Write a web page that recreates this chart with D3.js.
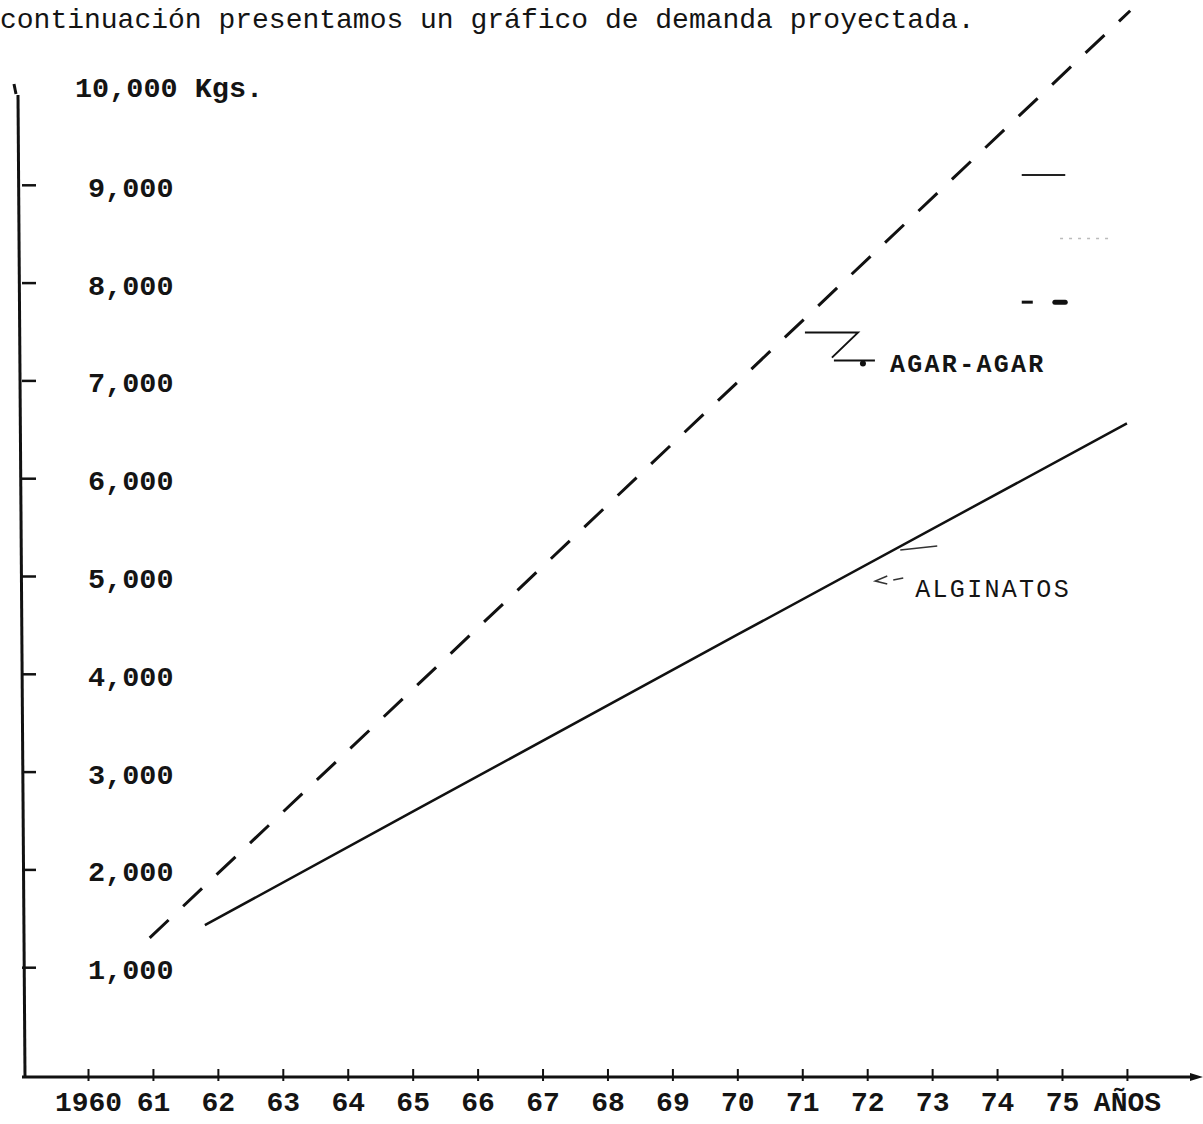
<!DOCTYPE html>
<html>
<head>
<meta charset="utf-8">
<script src="https://cdn.jsdelivr.net/npm/d3@7"></script>
<style>
  body { margin: 0; background: #fff; }
  svg { display: block; }
  text { font-family: "Liberation Mono", "DejaVu Sans Mono", monospace; fill: #141414; }
</style>
</head>
<body>
<div id="chart"></div>
<script>
// Years on the x axis and their typed labels
const years = [1960, 1961, 1962, 1963, 1964, 1965, 1966, 1967, 1968, 1969, 1970, 1971, 1972, 1973, 1974, 1975, 1976];
const yearLabels = ["1960", "61", "62", "63", "64", "65", "66", "67", "68", "69", "70", "71", "72", "73", "74", "75", "AÑOS"];

// Kg ticks on the y axis
const kgTicks = [1000, 2000, 3000, 4000, 5000, 6000, 7000, 8000, 9000];
const kgLabels = ["1,000", "2,000", "3,000", "4,000", "5,000", "6,000", "7,000", "8,000", "9,000"];

// Projected demand
const agarYears = [1960.95, 1965, 1970, 1976.05];
const agarValues = [1300, 3840, 6980, 10780];
const alginatosYears = [1961.8, 1965, 1970, 1976];
const alginatosValues = [1430, 2590, 4400, 6560];

const width = 1203, height = 1124;

const svg = d3.select("#chart")
    .append("svg")
    .attr("width", width)
    .attr("height", height);

svg.append("rect").attr("width", width).attr("height", height).attr("fill", "#fff");

const x = d3.scaleLinear().domain([1960, 1975]).range([88, 1062]);
const y = d3.scaleLinear().domain([0, 10000]).range([1065, 87]);

const axisY = 1077;

// Title line of the page
svg.append("text")
    .attr("x", 0)
    .attr("y", 28)
    .style("font-size", "28px")
    .text("continuación presentamos un gráfico de demanda proyectada.");

// Axis lines
svg.append("line")
    .attr("x1", 18).attr("y1", 95)
    .attr("x2", 25).attr("y2", axisY)
    .attr("stroke", "#111").attr("stroke-width", 3);
svg.append("line")
    .attr("x1", 14).attr("y1", 84)
    .attr("x2", 16).attr("y2", 94)
    .attr("stroke", "#111").attr("stroke-width", 3);

svg.append("line")
    .attr("x1", 22).attr("y1", axisY)
    .attr("x2", 1196).attr("y2", axisY)
    .attr("stroke", "#111").attr("stroke-width", 3);
svg.append("path")
    .attr("d", `M1203,${axisY} L1190,${axisY - 4} L1190,${axisY + 4} Z`)
    .attr("fill", "#111");

// Y axis ticks and labels
const gy = svg.append("g")
    .attr("transform", "translate(22,0)")
    .call(d3.axisRight(y)
        .tickValues(kgTicks)
        .tickFormat((d, i) => kgLabels[i])
        .tickSize(14)
        .tickPadding(52));
gy.select(".domain").remove();
gy.selectAll("line").attr("stroke", "#111").attr("stroke-width", 2.5);
gy.selectAll("text")
    .attr("dy", "0.4em")
    .style("font-size", "28.5px")
    .style("font-weight", "bold")
    .attr("fill", "#141414");

svg.append("text")
    .attr("x", 75)
    .attr("y", y(10000))
    .attr("dy", "0.34em")
    .style("font-size", "28.5px")
    .style("font-weight", "bold")
    .text("10,000 Kgs.");

// X axis ticks and labels
const gx = svg.append("g")
    .attr("transform", `translate(0,${axisY})`)
    .call(d3.axisBottom(x)
        .tickValues(years)
        .tickFormat((d, i) => yearLabels[i])
        .tickSizeInner(-8)
        .tickSizeOuter(0)
        .tickPadding(14));
gx.select(".domain").remove();
gx.selectAll("line").attr("y2", -8).attr("y1", 4).attr("stroke", "#111").attr("stroke-width", 2);
gx.selectAll("text")
    .style("font-size", "28px")
    .style("font-weight", "bold")
    .attr("fill", "#141414");

// Lines
const line = d3.line()
    .x(d => x(d[0]))
    .y(d => y(d[1]));

svg.append("path")
    .datum(agarYears.map((d, i) => [d, agarValues[i]]))
    .attr("d", line)
    .attr("fill", "none")
    .attr("stroke", "#111")
    .attr("stroke-width", 3)
    .attr("stroke-dasharray", "26,20");

svg.append("path")
    .datum(alginatosYears.map((d, i) => [d, alginatosValues[i]]))
    .attr("d", line)
    .attr("fill", "none")
    .attr("stroke", "#111")
    .attr("stroke-width", 2.5);

// Labels with their pointers
const agarX = x(1972.35), agarY = y(7090);
svg.append("text")
    .attr("x", agarX)
    .attr("y", agarY)
    .style("font-size", "25px")
    .style("font-weight", "bold")
    .style("letter-spacing", "2.3px")
    .text("AGAR-AGAR");
svg.append("path")
    .attr("d", `M${agarX - 85},${agarY - 39} L${agarX - 32},${agarY - 39} L${agarX - 58},${agarY - 14}
                M${agarX - 56},${agarY - 11} L${agarX - 15},${agarY - 11}`)
    .attr("fill", "none")
    .attr("stroke", "#111")
    .attr("stroke-width", 2);
svg.append("circle")
    .attr("cx", agarX - 27).attr("cy", agarY - 8).attr("r", 3)
    .attr("fill", "#111");

const algX = x(1972.74), algY = y(4785);
svg.append("text")
    .attr("x", algX)
    .attr("y", algY)
    .style("font-size", "25px")
    .style("letter-spacing", "2.3px")
    .text("ALGINATOS");
svg.append("path")
    .attr("d", `M${algX - 15},${algY - 47} L${algX + 22},${algY - 51}
                M${algX - 28},${algY - 21} L${algX - 40},${algY - 16} L${algX - 28},${algY - 13}
                M${algX - 22},${algY - 17} L${algX - 12},${algY - 19}`)
    .attr("fill", "none")
    .attr("stroke", "#333")
    .attr("stroke-width", 1.5);

// Stray typed marks near the top right
svg.append("line")
    .attr("x1", x(1974.38)).attr("x2", x(1975.05))
    .attr("y1", y(9100)).attr("y2", y(9100))
    .attr("stroke", "#222").attr("stroke-width", 2);
svg.append("line")
    .attr("x1", x(1974.38)).attr("x2", x(1974.55))
    .attr("y1", y(7800)).attr("y2", y(7800))
    .attr("stroke", "#111").attr("stroke-width", 3);
svg.append("line")
    .attr("x1", x(1974.89)).attr("x2", x(1975.05))
    .attr("y1", y(7800)).attr("y2", y(7800))
    .attr("stroke", "#111").attr("stroke-width", 5)
    .attr("stroke-linecap", "round");
svg.append("line")
    .attr("x1", x(1974.97)).attr("x2", x(1975.79))
    .attr("y1", y(8450)).attr("y2", y(8450))
    .attr("stroke", "#bbb").attr("stroke-width", 1.5)
    .attr("stroke-dasharray", "3,6");
</script>
</body>
</html>
